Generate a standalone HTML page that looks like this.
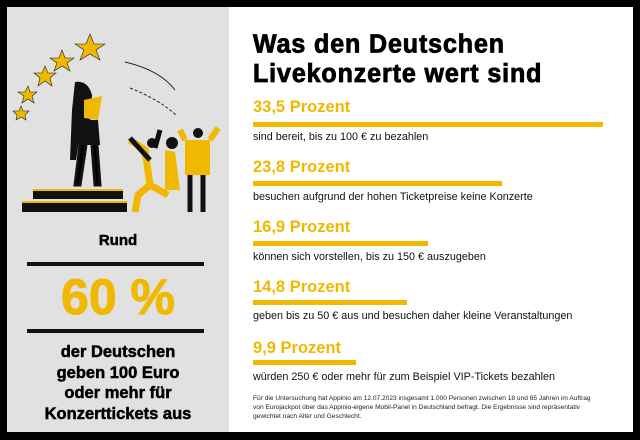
<!DOCTYPE html>
<html><head><meta charset="utf-8"><style>
body{margin:0;width:640px;height:440px;background:#000;position:relative;overflow:hidden;font-family:"Liberation Sans",sans-serif}
.l{position:absolute;left:7px;top:7px;width:222px;height:425px;background:#e1e1e1}
.r{position:absolute;left:229px;top:7px;width:404px;height:425px;background:#fff}
.a{position:absolute;white-space:nowrap}
.t{font-weight:bold;font-size:25px;line-height:28px;left:253px;top:31px;letter-spacing:0.9px;-webkit-text-stroke:0.8px #000;transform:scaleY(1.05)}
.h{left:253px;font-size:16.5px;font-weight:bold;color:#f0b800}
.d{left:253px;font-size:10.8px;color:#111}
.b{position:absolute;left:253px;height:5px;background:#f0b800}
.c{font-weight:bold;text-align:center;width:222px;left:7px;-webkit-text-stroke:0.5px #000}
</style></head><body>
<div class="l"></div><div class="r"></div>
<svg class="a" style="left:7px;top:7px" width="222" height="210" viewBox="7 7 222 210">
<g fill="#f0b800" stroke="#222" stroke-width="0.6">
<polygon points="90,34 94,44 105,44 96,50 100,60 90,54 80,60 84,50 75,44 86,44"/>
<polygon points="62,50 65,58 74,58 67,63 70,71 62,66 54,71 57,63 50,58 59,58"/>
<polygon points="45,66 48,73 56,73 50,78 52,86 45,81 38,86 40,78 34,73 42,73"/>
<polygon points="28,86 30,92 37,92 32,96 34,103 28,99 22,103 24,96 18,92 25,92"/>
<polygon points="21,106 23,111 29,111 25,115 26,120 21,117 16,120 17,115 13,111 19,111"/>
</g>
<path d="M125 62 Q160 70 175 90" stroke="#222" fill="none"/>
<path d="M130 88 Q160 100 176 115" stroke="#222" fill="none" stroke-dasharray="3,2"/>
<path d="M75 82 Q88 80 92 95 L90 125 L80 135 L76 160 L70 160 L72 110 Z" fill="#111"/>
<path d="M84 100 L102 96 L98 120 L84 118 Z" fill="#f0b800"/>
<path d="M80 120 L98 120 L100 145 L76 145 Z" fill="#111"/>
<path d="M80 145 L75 185 L80 185 L86 145 M92 145 L95 185 L100 185 L97 145" stroke="#111" stroke-width="3"/>
<rect x="33" y="191" width="90" height="8" fill="#111"/><rect x="33" y="189" width="90" height="2" fill="#f0b800"/>
<rect x="22" y="203" width="105" height="9" fill="#111"/><rect x="22" y="201" width="105" height="2" fill="#f0b800"/>
<path d="M130 140 L145 150 L150 185 L138 195 L135 212 M150 185 L168 195" stroke="#f0b800" stroke-width="7" fill="none"/>
<path d="M130 138 L150 160 M155 148 L160 130" stroke="#111" stroke-width="5"/>
<path d="M165 150 L175 152 L180 190 L165 190 Z" fill="#f0b800"/>
<path d="M185 140 L210 140 L210 175 L185 175 Z" fill="#f0b800"/>
<path d="M190 175 L190 212 M203 175 L203 212" stroke="#111" stroke-width="5"/>
<path d="M185 140 L180 130 M210 140 L218 128" stroke="#f0b800" stroke-width="6"/>
<circle cx="152" cy="143" r="5" fill="#111"/><circle cx="172" cy="143" r="6" fill="#111"/><circle cx="198" cy="133" r="5" fill="#111"/>
</svg>
<div class="a c" style="top:232px;font-size:15px">Rund</div>
<div class="a" style="left:27px;top:262px;width:177px;height:4px;background:#111"></div>
<div class="a c" style="top:269px;font-size:50px;line-height:56px;color:#f0b800;-webkit-text-stroke:1px #f0b800">60 %</div>
<div class="a" style="left:27px;top:329px;width:177px;height:4px;background:#111"></div>
<div class="a c" style="top:342px;font-size:16.5px;line-height:20.5px">der Deutschen<br>geben 100 Euro<br>oder mehr für<br>Konzerttickets aus</div>
<div class="a t">Was den Deutschen<br>Livekonzerte wert sind</div>
<div class="a h" style="top:98px">33,5 Prozent</div><div class="b" style="top:122px;width:350px"></div><div class="a d" style="top:131px">sind bereit, bis zu 100 € zu bezahlen</div>
<div class="a h" style="top:158px">23,8 Prozent</div><div class="b" style="top:181px;width:249px"></div><div class="a d" style="top:191px">besuchen aufgrund der hohen Ticketpreise keine Konzerte</div>
<div class="a h" style="top:218px">16,9 Prozent</div><div class="b" style="top:241px;width:175px"></div><div class="a d" style="top:251px">können sich vorstellen, bis zu 150 € auszugeben</div>
<div class="a h" style="top:278px">14,8 Prozent</div><div class="b" style="top:300px;width:154px"></div><div class="a d" style="top:310px">geben bis zu 50 € aus und besuchen daher kleine Veranstaltungen</div>
<div class="a h" style="top:339px">9,9 Prozent</div><div class="b" style="top:360px;width:103px"></div><div class="a d" style="top:371px">würden 250 € oder mehr für zum Beispiel VIP-Tickets bezahlen</div>
<div class="a" style="left:253px;top:394px;font-size:6.6px;line-height:9px;color:#222">Für die Untersuchung hat Appinio am 12.07.2023 insgesamt 1.000 Personen zwischen 18 und 65 Jahren im Auftrag<br>von Eurojackpot über das Appinio-eigene Mobil-Panel in Deutschland befragt. Die Ergebnisse sind repräsentativ<br>gewichtet nach Alter und Geschlecht.</div>
</body></html>
